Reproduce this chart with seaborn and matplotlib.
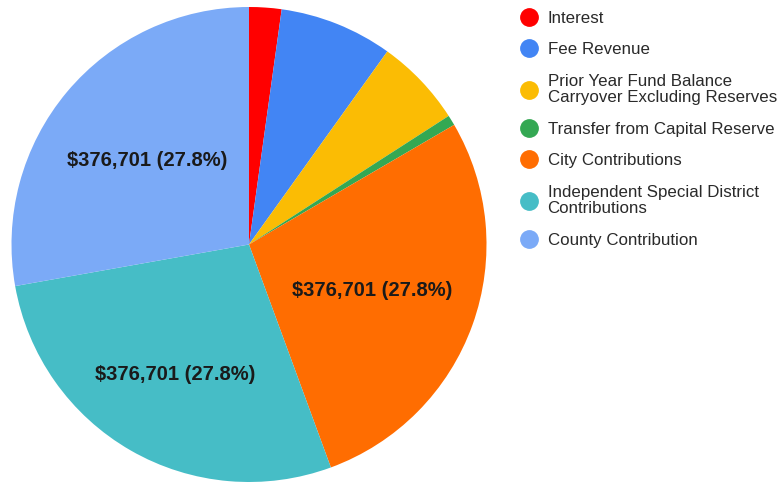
import matplotlib
matplotlib.use("Agg")
import matplotlib.pyplot as plt
import seaborn as sns
import numpy as np
from matplotlib.lines import Line2D

categories = [
    "Interest",
    "Fee Revenue",
    "Prior Year Fund Balance\nCarryover Excluding Reserves",
    "Transfer from Capital Reserve",
    "City Contributions",
    "Independent Special District\nContributions",
    "County Contribution",
]
values = [29800, 104300, 81300, 9500, 376701, 376701, 376701]
colors = ["#FF0000", "#4285F4", "#FBBC04", "#34A853", "#FF6D01", "#46BDC6", "#7BAAF7"]
label_radius = [0, 0, 0, 0, 0.55, 0.62, 0.56]

sns.set_theme(style="white")
plt.rcParams["font.family"] = ["Liberation Sans", "DejaVu Sans"]

fig = plt.figure(figsize=(7.77, 4.82), dpi=100)
W, H = 777, 482
cx, cy, r = 249, 244.5, 237.5
ax = fig.add_axes([(cx - r) / W, (H - cy - r) / H, 2 * r / W, 2 * r / H])

total = sum(values)
wedges, _ = ax.pie(values, colors=colors, startangle=90, counterclock=False,
                   radius=1, wedgeprops=dict(linewidth=0))
ax.set_xlim(-1, 1)
ax.set_ylim(-1, 1)
ax.set_aspect("equal")
ax.axis("off")

for w, v, lr in zip(wedges, values, label_radius):
    if v / total < 0.1:
        continue
    ang = np.deg2rad((w.theta1 + w.theta2) / 2)
    ax.text(lr * np.cos(ang), lr * np.sin(ang) - 0.008,
            f"${v:,.0f} ({v / total * 100:.1f}%)",
            ha="center", va="center", fontsize=14.5, fontweight="bold", color="#1a1a1a")

handles = [Line2D([0], [0], marker="o", linestyle="", markersize=12.5,
                  markerfacecolor=c, markeredgecolor=c) for c in colors]
leg = fig.legend(handles, categories, loc="upper left",
                 bbox_to_anchor=(512 / W, 1 - 4 / H), frameon=False,
                 fontsize=12.2, labelspacing=0.98, handletextpad=0.5,
                 handlelength=1.2, borderaxespad=0)
for t in leg.get_texts():
    t.set_color("#2a2a2a")
    t.set_linespacing(1.1)

fig.savefig("out.png", dpi=100)
